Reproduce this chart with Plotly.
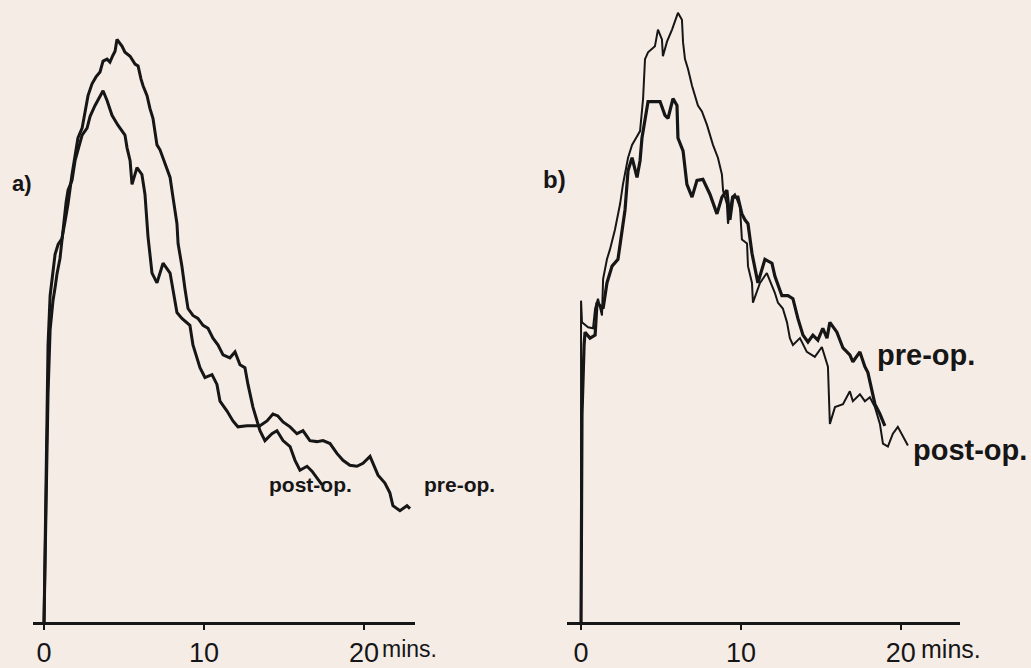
import plotly.graph_objects as go

# ---- data (time in minutes, activity in arbitrary units) ----
a_post_t = [0, 0.06, 0.12, 0.25, 0.38, 0.5, 0.62, 0.69, 0.88, 1.12, 1.31, 1.5, 1.75, 1.94, 2.12, 2.38, 2.56, 2.75,
            3.0, 3.25, 3.5, 3.69, 3.94, 4.12, 4.31, 4.44, 4.56, 4.75, 4.88, 5.06, 5.25, 5.38, 5.69, 5.88, 6.06,
            6.19, 6.44, 6.62, 6.81, 7.06, 7.25, 7.44, 7.69, 7.88, 8.06, 8.31, 8.38, 8.62, 8.81, 9.0, 9.31, 9.62,
            9.94, 10.25, 10.56, 10.88, 11.19, 11.62, 11.94, 12.25, 12.56, 12.75, 13.06, 13.31, 13.5, 13.81, 14.25,
            14.56, 14.94, 15.38, 15.69, 16.0, 16.44, 16.75, 17.06, 17.38]
a_post_v = [0, 71, 181, 281, 331, 349, 361, 373, 383, 389, 406, 424, 454, 471, 491, 501, 519, 534,
            546, 553, 558, 569, 571, 568, 575, 579, 591, 587, 584, 578, 576, 574, 566, 564, 551,
            544, 534, 521, 511, 484, 479, 471, 461, 451, 431, 404, 384, 361, 338, 318, 311, 308,
            301, 298, 288, 281, 271, 268, 274, 261, 258, 241, 218, 204, 194, 184, 191,
            194, 184, 178, 164, 154, 158, 153, 146, 139]

a_pre_t = [0, 0.12, 0.25, 0.38, 0.56, 0.69, 0.81, 1.0, 1.19, 1.38, 1.5, 1.75, 1.94, 2.12, 2.38, 2.69, 2.88, 3.19,
           3.5, 3.69, 3.94, 4.25, 4.62, 5.06, 5.19, 5.38, 5.5, 5.81, 6.12, 6.31, 6.5, 6.75, 7.06, 7.44, 7.88,
           8.06, 8.31, 8.62, 9.12, 9.31, 9.75, 10.06, 10.5, 10.81, 11.0, 11.44, 11.81, 12.12, 12.69, 13.19,
           13.5, 13.94, 14.31, 14.62, 14.94, 15.38, 15.81, 16.19, 16.62, 17.06, 17.44, 17.88, 18.31, 18.69,
           19.12, 19.56, 19.94, 20.38, 20.56, 20.88, 21.31, 21.62, 21.81, 22.25, 22.69, 22.88]
a_pre_v = [0, 111, 231, 296, 326, 339, 353, 369, 401, 426, 438, 448, 468, 478, 494, 501, 513, 524,
           533, 539, 529, 514, 504, 494, 481, 468, 444, 461, 454, 434, 391, 354, 344, 364, 354,
           338, 314, 308, 301, 281, 258, 248, 251, 241, 224, 214, 204, 198, 199, 199,
           199, 204, 211, 209, 203, 198, 191, 194, 184, 183, 184, 181, 171, 164,
           159, 158, 161, 168, 161, 149, 141, 131, 118, 113, 118, 115]

b_post_t = [0, 0.0, 0.06, 0.44, 0.75, 0.88, 1.06, 1.31, 1.38, 1.62, 1.81, 2.12, 2.44, 2.62, 2.94, 3.19, 3.44,
            3.69, 3.88, 4.0, 4.19, 4.62, 4.81, 5.06, 5.12, 5.38, 5.69, 5.88, 6.06, 6.31, 6.38, 6.5, 6.69, 6.94,
            7.12, 7.31, 7.56, 7.88, 8.25, 8.56, 8.81, 8.88, 9.12, 9.19, 9.44, 9.62, 9.94, 10.06, 10.38, 10.44,
            10.69, 10.75, 11.19, 11.62, 12.12, 12.31, 12.62, 12.88, 13.06, 13.25, 13.69, 14.12, 14.62, 15.06,
            15.44, 15.56, 15.88, 16.38, 16.81, 17.0, 17.44, 17.75, 18.06, 18.38, 18.69, 18.88, 19.19, 19.5,
            19.81, 20.12, 20.44]
b_post_v = [0, 326, 304, 299, 298, 318, 328, 311, 348, 368, 378, 398, 424, 444, 471, 484, 491,
            498, 531, 571, 578, 584, 601, 591, 574, 589, 601, 609, 618, 611, 588, 571, 561, 544,
            534, 524, 518, 504, 484, 471, 454, 438, 424, 404, 431, 434, 421, 388, 384, 361,
            344, 324, 344, 354, 334, 324, 318, 304, 288, 281, 288, 274, 269, 279,
            259, 201, 218, 221, 234, 224, 231, 224, 228, 218, 201, 181, 178, 191,
            198, 188, 179]

b_pre_t = [0, 0.06, 0.19, 0.25, 0.56, 0.88, 1.0, 1.38, 1.62, 1.94, 2.31, 2.56, 2.75, 2.94, 3.19, 3.5, 3.69,
           3.81, 4.19, 4.62, 4.94, 5.25, 5.44, 5.75, 6.0, 6.06, 6.38, 6.62, 6.94, 7.25, 7.62, 8.06, 8.5, 8.81,
           9.12, 9.31, 9.5, 9.81, 10.06, 10.25, 10.44, 10.69, 10.88, 11.06, 11.5, 11.94, 12.12, 12.56, 12.94,
           13.25, 13.56, 13.88, 14.19, 14.5, 14.81, 15.12, 15.38, 15.56, 16.0, 16.38, 16.81, 17.0, 17.44,
           17.75, 17.94, 18.19, 18.38, 18.69, 19.0]
b_pre_v = [0, 211, 281, 294, 288, 291, 324, 318, 344, 361, 368, 394, 418, 458, 471, 451, 468,
           491, 528, 528, 528, 514, 511, 531, 524, 491, 478, 444, 431, 448, 449, 434, 414, 431,
           438, 408, 431, 431, 414, 408, 404, 374, 358, 344, 368, 364, 351, 331, 331,
           328, 308, 291, 284, 291, 286, 298, 288, 304, 294, 278, 271, 264, 274,
           259, 253, 236, 221, 211, 199]

tick_vals = [0, 10, 20]
tick_text = ["0", "10", "20"]

INK = "#161616"
BG = "#f6ece6"

fig = go.Figure()
fig.add_trace(go.Scatter(x=a_post_t, y=a_post_v, mode="lines", name="post-op.",
                         line=dict(color=INK, width=3), xaxis="x", yaxis="y"))
fig.add_trace(go.Scatter(x=a_pre_t, y=a_pre_v, mode="lines", name="pre-op.",
                         line=dict(color=INK, width=3), xaxis="x", yaxis="y"))
fig.add_trace(go.Scatter(x=b_post_t, y=b_post_v, mode="lines", name="post-op.",
                         line=dict(color=INK, width=2), xaxis="x2", yaxis="y2"))
fig.add_trace(go.Scatter(x=b_pre_t, y=b_pre_v, mode="lines", name="pre-op.",
                         line=dict(color=INK, width=3.2), xaxis="x2", yaxis="y2"))

axis_common = dict(showline=True, linecolor=INK, linewidth=3, ticks="outside", ticklen=5,
                   tickwidth=2, tickcolor=INK, tickvals=tick_vals, ticktext=tick_text,
                   showgrid=False, zeroline=False,
                   tickfont=dict(family="Liberation Sans", size=27, color=INK))

fig.update_layout(
    width=1031, height=668, autosize=False,
    margin=dict(l=0, r=0, t=0, b=37),
    paper_bgcolor=BG, plot_bgcolor=BG,
    showlegend=False,
    xaxis=dict(domain=[0.032, 0.4025], range=[-0.69, 23.19], anchor="y", **axis_common),
    yaxis=dict(domain=[0, 1], range=[0, 631], visible=False),
    xaxis2=dict(domain=[0.55, 0.931], range=[-0.875, 23.69], anchor="y2", **axis_common),
    yaxis2=dict(domain=[0, 1], range=[0, 631], visible=False, anchor="x2"),
)

def note(text, px, py, size, xanchor="center", weight="bold"):
    fig.add_annotation(text=text, x=px / 1031, y=(631 - py) / 631, xref="paper", yref="paper",
                       showarrow=False, xanchor=xanchor, yanchor="middle", borderpad=0,
                       font=dict(family="Liberation Sans", size=size, color=INK, weight=weight))

note("a)", 22, 186, 22)
note("b)", 554, 182, 24)
note("post-op.", 310, 492, 21)
note("pre-op.", 459, 492, 21)
note("pre-op.", 926, 360, 29)
note("post-op.", 970, 457, 29)
note("mins.", 381, 658, 23, xanchor="left", weight="normal")
note("mins.", 920, 658, 25, xanchor="left", weight="normal")

fig.write_html("out.html")
